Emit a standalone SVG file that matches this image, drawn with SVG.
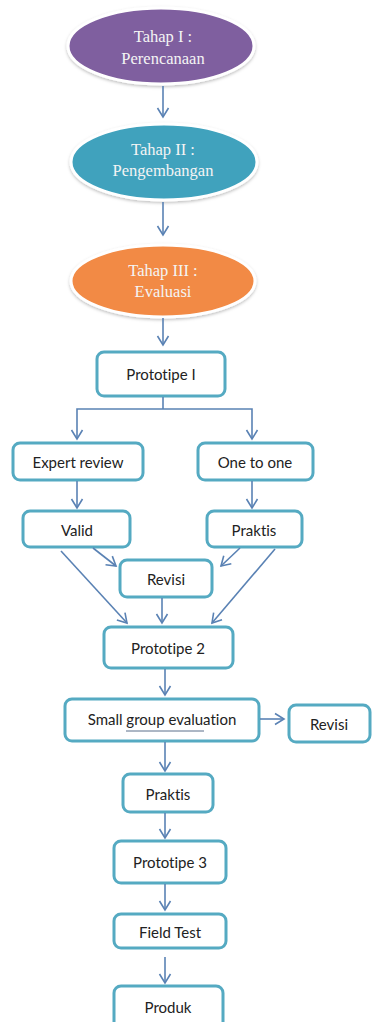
<svg xmlns="http://www.w3.org/2000/svg" width="372" height="1022" viewBox="0 0 372 1022">
<style>
.box{fill:#fff;stroke:#55aac2;stroke-width:3}
.lbl{font-family:Lato,"Liberation Sans",sans-serif;font-size:15px;fill:#222;text-anchor:middle;dominant-baseline:central;font-variant-ligatures:none}
.el{font-family:"Liberation Serif",serif;font-size:16.5px;fill:#f4f4f4;text-anchor:middle}
.ell{stroke:#fff;stroke-width:3;filter:url(#sh)}
.c{fill:none;stroke:#5a82b4;stroke-width:1.6}
</style>
<defs>
<marker id="ah" markerUnits="userSpaceOnUse" markerWidth="14" markerHeight="14" refX="10" refY="7" orient="auto">
<path d="M1,1.5 L10,7 L1,12.5" fill="none" stroke="#5a82b4" stroke-width="1.6"/>
</marker>
<filter id="sh" x="-10%" y="-20%" width="120%" height="140%">
<feDropShadow dx="0" dy="1.5" stdDeviation="1.5" flood-color="#000" flood-opacity="0.25"/>
</filter>
</defs>
<g id="n1"><ellipse class="ell" cx="161" cy="46" rx="93" ry="38" fill="#7f5e9f"/>
<text class="el" x="163" y="42">Tahap I :</text><text class="el" x="163" y="64">Perencanaan</text></g>
<g id="n2"><ellipse class="ell" cx="164" cy="162" rx="93" ry="38" fill="#3fa2bd"/>
<text class="el" x="163" y="155">Tahap II :</text><text class="el" x="163" y="176">Pengembangan</text></g>
<g id="n3"><ellipse class="ell" cx="163" cy="281" rx="92" ry="36" fill="#f28a44"/>
<text class="el" x="163" y="276">Tahap III :</text><text class="el" x="163" y="297">Evaluasi</text></g>
<g id="p1"><rect class="box" x="97" y="352" width="128" height="44" rx="7"/><text class="lbl" x="161" y="374">Prototipe I</text></g>
<g id="er"><rect class="box" x="13" y="443" width="130" height="37" rx="7"/><text class="lbl" x="78" y="462">Expert review</text></g>
<g id="oo"><rect class="box" x="198" y="443" width="115" height="37" rx="7"/><text class="lbl" x="255" y="462">One to one</text></g>
<g id="valid"><rect class="box" x="23" y="511" width="107" height="36" rx="7"/><text class="lbl" x="77" y="530">Valid</text></g>
<g id="praktis1"><rect class="box" x="207" y="511" width="95" height="36" rx="7"/><text class="lbl" x="254" y="530">Praktis</text></g>
<g id="revisi1"><rect class="box" x="120" y="560" width="92" height="37" rx="7"/><text class="lbl" x="166" y="579">Revisi</text></g>
<g id="p2"><rect class="box" x="104" y="627" width="129" height="41" rx="7"/><text class="lbl" x="168" y="648">Prototipe 2</text></g>
<g id="sge"><rect class="box" x="65" y="699" width="194" height="42" rx="7"/><text class="lbl" x="162" y="719">Small group evaluation</text>
<line x1="126" y1="731" x2="204" y2="731" stroke="#5a6f8a" stroke-width="1"/></g>
<g id="revisi2"><rect class="box" x="289" y="705" width="81" height="37" rx="7"/><text class="lbl" x="329" y="724">Revisi</text></g>
<g id="praktis2"><rect class="box" x="123" y="774" width="90" height="38" rx="7"/><text class="lbl" x="168" y="794">Praktis</text></g>
<g id="p3"><rect class="box" x="114" y="841" width="112" height="42" rx="7"/><text class="lbl" x="170" y="862">Prototipe 3</text></g>
<g id="ft"><rect class="box" x="114" y="914" width="112" height="34" rx="7"/><text class="lbl" x="170" y="932">Field Test</text></g>
<g id="produk"><rect class="box" x="114" y="986" width="109" height="50" rx="7"/><text class="lbl" x="168" y="1007">Produk</text></g>
<g id="connectors">
<line class="c" x1="163" y1="86" x2="163" y2="117" marker-end="url(#ah)"/>
<line class="c" x1="163" y1="202" x2="163" y2="235" marker-end="url(#ah)"/>
<line class="c" x1="163" y1="318" x2="163" y2="345" marker-end="url(#ah)"/>
<polyline class="c" points="163,397 163,409"/>
<polyline class="c" points="163,409 77,409 77,439" marker-end="url(#ah)"/>
<polyline class="c" points="163,409 252,409 252,439" marker-end="url(#ah)"/>
<line class="c" x1="77" y1="481" x2="77" y2="508" marker-end="url(#ah)"/>
<line class="c" x1="252" y1="481" x2="252" y2="508" marker-end="url(#ah)"/>
<line class="c" x1="93" y1="548" x2="116" y2="566" marker-end="url(#ah)"/>
<line class="c" x1="240" y1="548" x2="221" y2="566" marker-end="url(#ah)"/>
<line class="c" x1="61" y1="551" x2="127" y2="623" marker-end="url(#ah)"/>
<line class="c" x1="275" y1="549" x2="212" y2="623" marker-end="url(#ah)"/>
<line class="c" x1="162" y1="598" x2="162" y2="623" marker-end="url(#ah)"/>
<line class="c" x1="165" y1="669" x2="165" y2="695" marker-end="url(#ah)"/>
<line class="c" x1="260" y1="719" x2="284" y2="719" marker-end="url(#ah)"/>
<line class="c" x1="165" y1="742" x2="165" y2="771" marker-end="url(#ah)"/>
<line class="c" x1="165" y1="813" x2="165" y2="838" marker-end="url(#ah)"/>
<line class="c" x1="165" y1="884" x2="165" y2="910" marker-end="url(#ah)"/>
<line class="c" x1="165" y1="957" x2="165" y2="983" marker-end="url(#ah)"/>
</g>
</svg>
